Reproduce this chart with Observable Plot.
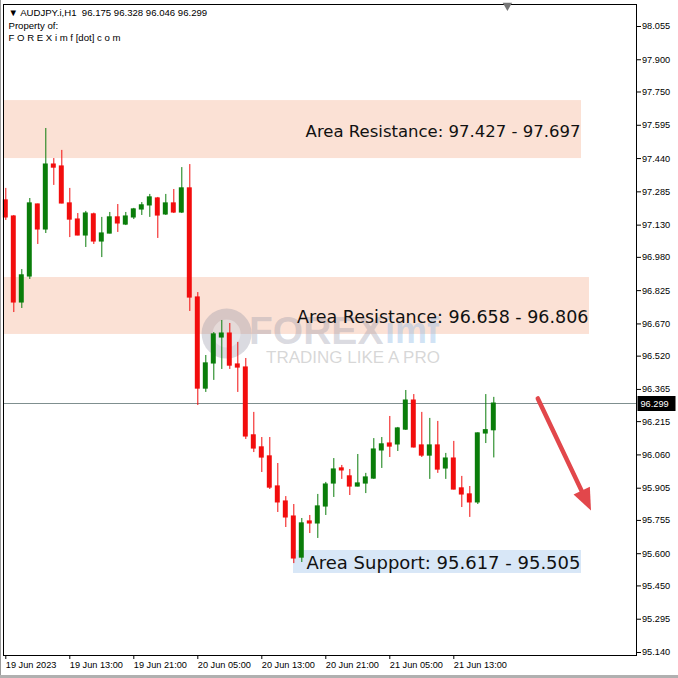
<!DOCTYPE html>
<html><head><meta charset="utf-8">
<script src="https://cdn.jsdelivr.net/npm/d3@7"></script>
<script src="https://cdn.jsdelivr.net/npm/@observablehq/plot@0.6"></script>
<style>
html,body{margin:0;padding:0;background:#fff;}
#wrap{position:relative;width:678px;height:678px;overflow:hidden;}
#wrap svg{display:block;}
.edge-l{position:absolute;left:0;top:0;width:1px;height:678px;background:#9a9a9a;}
.edge-b{position:absolute;left:0;top:675px;width:678px;height:3px;background:#b0b0b0;}
</style></head><body><div id="wrap"><div class="edge-l"></div><div class="edge-b"></div></div>
<script>
// ---- H1 candles, index 0 = 19 Jun 2023 05:00 ----
const open  = [97.245,97.170,96.770,96.891,97.226,97.110,97.412,97.403,97.231,97.156,97.082,97.180,97.054,97.091,97.166,97.133,97.166,97.203,97.222,97.254,97.180,97.231,97.189,97.301,96.793,96.369,96.486,96.607,96.625,96.481,96.467,96.151,96.095,96.053,95.913,95.843,95.773,95.582,95.750,95.741,95.820,95.927,95.997,95.960,95.913,95.927,95.950,96.081,96.113,96.109,96.178,96.313,96.104,96.057,96.104,95.997,96.043,95.904,95.876,95.839,96.160,96.175];
const high  = [97.301,97.175,96.923,97.254,97.228,97.580,97.440,97.478,97.301,97.184,97.194,97.186,97.166,97.189,97.226,97.189,97.208,97.235,97.273,97.259,97.273,97.296,97.398,97.412,96.816,96.523,96.630,96.686,96.672,96.584,96.509,96.258,96.141,96.141,96.020,95.866,95.829,95.764,95.778,95.876,95.932,96.043,96.011,95.992,96.062,95.974,96.136,96.141,96.239,96.188,96.360,96.341,96.258,96.230,96.216,96.067,96.123,95.960,95.913,96.163,96.341,96.328];
const low   = [97.152,96.723,96.742,96.877,97.040,97.091,97.315,97.229,97.072,97.080,97.026,97.040,96.979,97.089,97.096,97.128,97.156,97.175,97.166,97.068,97.175,97.184,97.184,96.728,96.290,96.351,96.407,96.458,96.458,96.351,96.132,96.071,95.978,95.899,95.792,95.722,95.554,95.559,95.694,95.671,95.778,95.862,95.946,95.871,95.911,95.880,95.946,95.997,96.048,96.076,96.174,96.092,96.048,95.946,95.974,95.946,95.897,95.815,95.769,95.829,96.113,96.046];
const close = [97.166,96.770,96.896,97.231,97.110,97.412,97.398,97.231,97.156,97.082,97.184,97.054,97.091,97.166,97.138,97.170,97.203,97.222,97.259,97.175,97.231,97.189,97.301,96.793,96.369,96.486,96.621,96.625,96.476,96.467,96.146,96.090,96.048,95.908,95.839,95.769,95.578,95.741,95.741,95.820,95.922,95.992,95.988,95.913,95.927,95.955,96.085,96.109,96.099,96.183,96.313,96.095,96.057,96.104,95.992,96.043,95.899,95.876,95.839,96.160,96.175,96.299];

// ---- axes ----
const xTickIndex  = [0, 8, 16, 24, 32, 40, 48, 56];
const xTickLabels = ["19 Jun 2023","19 Jun 13:00","19 Jun 21:00","20 Jun 05:00","20 Jun 13:00","20 Jun 21:00","21 Jun 05:00","21 Jun 13:00"];
const yTicks = [98.055,97.900,97.750,97.595,97.440,97.285,97.130,96.980,96.825,96.670,96.520,96.365,96.215,96.060,95.905,95.755,95.600,95.450,95.295,95.140];

// ---- zones ----
const zoneKind   = ["resistance","resistance","support"];
const zoneStart  = [-0.3, -0.3, 35.96];
const zoneEnd    = [71.96, 72.96, 71.96];
const zoneLow    = [97.440, 96.621, 95.508];
const zoneHigh   = [97.710, 96.886, 95.615];
const zoneLabel  = ["Area Resistance: 97.427 - 97.697","Area Resistance: 96.658 - 96.806","Area Support: 95.617 - 95.505"];
const zoneLabelY = [97.566, 96.700, 95.554];
const zoneLabelSize = [16.5, 17.5, 18];

// ---- annotations ----
const headerLines = ["\u25BC AUDJPY.i,H1\u00A0\u00A096.175 96.328 96.046 96.299", "Property of:", "F O R E X i m f [dot] c o m"];
const arrowFrom = [66.5, 96.323];
const arrowTo   = [73.15, 95.801];
const shiftMarker = [62.7];
const logoIcon = [{x: 27.6, y: 96.625}];
const logoWords = [
  {text: "FOREX", x: 47.2, y: 96.635, part: "a"},
  {text: "imf", x: 47.4, y: 96.635, part: "b"},
  {text: "TRADING LIKE A PRO", x: 43.4, y: 96.512, part: "c"}
];

const candles = open.map((o, i) => ({i, open: o, high: high[i], low: low[i], close: close[i]}));
const upC = candles.filter(d => d.close >= d.open);
const dnC = candles.filter(d => d.close < d.open);
const zones = zoneKind.map((k, i) => ({kind: k, start: zoneStart[i], end: zoneEnd[i], low: zoneLow[i], high: zoneHigh[i], label: zoneLabel[i], ly: zoneLabelY[i], fs: zoneLabelSize[i]}));
const lastClose = close[close.length - 1];
const arrow = [{x1: arrowFrom[0], y1: arrowFrom[1], x2: arrowTo[0], y2: arrowTo[1]}];

const GREEN = "#0a7d0a", RED = "#f20d0d";
const FONT = "'Liberation Sans', Arial, sans-serif";
const rectSym = {draw(ctx) { ctx.rect(-19, -7.5, 38, 15); }};
const headSym = {draw(ctx) { ctx.moveTo(0, 0); ctx.lineTo(-9, -22); ctx.lineTo(9, -22); ctx.closePath(); }};

const chart = Plot.plot({
  width: 678, height: 678,
  marginLeft: 3, marginRight: 42, marginTop: 4, marginBottom: 23,
  style: {fontFamily: FONT, fontSize: "9.2px", background: "#fff", color: "#000", overflow: "visible"},
  x: {domain: [-0.2875, 78.8375]},
  y: {domain: [95.126, 98.1574]},
  marks: [
    Plot.rect(zones.filter(d => d.kind === "resistance"), {x1: "start", x2: "end", y1: "low", y2: "high", fill: "#fbe1d5", clip: true}),
    Plot.rect(zones.filter(d => d.kind === "support"), {x1: "start", x2: "end", y1: "low", y2: "high", fill: "#d8e7f7", clip: true}),
    // watermark
    Plot.dot(logoIcon, {x: "x", y: "y", r: 25, fill: "#8e8ea0", fillOpacity: 0.33}),
    Plot.dot(logoIcon, {x: "x", y: "y", r: 14, fill: "#ffffff", fillOpacity: 0.35}),
    Plot.text(logoWords.filter(d => d.part === "a"), {x: "x", y: "y", text: "text", textAnchor: "end", fontSize: 39, fontWeight: "bold", fill: "#8e8ea2", fillOpacity: 0.33, fontFamily: FONT}),
    Plot.text(logoWords.filter(d => d.part === "b"), {x: "x", y: "y", text: "text", textAnchor: "start", fontSize: 36, fontWeight: "bold", fill: "#8fbce8", fillOpacity: 0.42, fontFamily: FONT}),
    Plot.text(logoWords.filter(d => d.part === "c"), {x: "x", y: "y", text: "text", textAnchor: "middle", fontSize: 17, fill: "#b0b0b0", fillOpacity: 0.5, fontFamily: FONT}),
    // zone labels
    ...zones.map(z => Plot.text([z], {x: "end", y: "ly", text: "label", textAnchor: "end", dx: -1, fontSize: z.fs, fill: "#111", fontFamily: "'DejaVu Sans', sans-serif"})),
    // current price line
    Plot.ruleY([lastClose], {stroke: "#7f8f8f", strokeWidth: 1, shapeRendering: "crispEdges"}),
    // candles
    Plot.ruleX(upC, {x: "i", y1: "low", y2: "high", stroke: GREEN, strokeWidth: 1}),
    Plot.ruleX(dnC, {x: "i", y1: "low", y2: "high", stroke: RED, strokeWidth: 1}),
    Plot.rect(upC, {x1: d => d.i - 0.31, x2: d => d.i + 0.31, y1: "open", y2: "close", fill: GREEN, insetTop: -0.6, insetBottom: -0.6}),
    Plot.rect(dnC, {x1: d => d.i - 0.31, x2: d => d.i + 0.31, y1: "open", y2: "close", fill: RED, insetTop: -0.6, insetBottom: -0.6}),
    // arrow
    Plot.link(arrow, {x1: "x1", y1: "y1", x2: d => d.x1 + (d.x2 - d.x1) * 0.86, y2: d => d.y1 + (d.y2 - d.y1) * 0.86, stroke: "#e2474b", strokeWidth: 4.5, strokeLinecap: "round"}),
    Plot.dot(arrow, {x: "x2", y: "y2", symbol: headSym, rotate: -25, fill: "#e2474b", stroke: "none", r: 5}),
    // axes + frame
    Plot.frame({stroke: "#000"}),
    Plot.axisY(yTicks, {anchor: "right", tickSize: 4, tickPadding: 1.5, tickFormat: d3.format(".3f"), label: null}),
    Plot.axisX(xTickIndex, {anchor: "bottom", tickSize: 4, tickPadding: 2, textAnchor: "start", tickFormat: d => xTickLabels[xTickIndex.indexOf(d)], label: null}),
    // last price tag
    Plot.dot([lastClose], {y: d => d, frameAnchor: "right", dx: 20, symbol: rectSym, fill: "#000", stroke: "none"}),
    Plot.text([lastClose], {y: d => d, frameAnchor: "right", dx: 4, text: d => d3.format(".3f")(d), textAnchor: "start", fill: "#fff"}),
    // header
    Plot.text([headerLines.join("\n")], {frameAnchor: "top-left", dx: 5, dy: 3, text: d => d, textAnchor: "start", lineAnchor: "top", lineHeight: 1.3, fontSize: 9.6, fill: "#000"}),
    // chart shift marker
    Plot.dot(shiftMarker, {x: d => d, frameAnchor: "top", dy: 1, symbol: "triangle", rotate: 180, r: 3.5, fill: "#777", stroke: "none"})
  ]
});
document.getElementById("wrap").prepend(chart);
</script>
</body></html>
